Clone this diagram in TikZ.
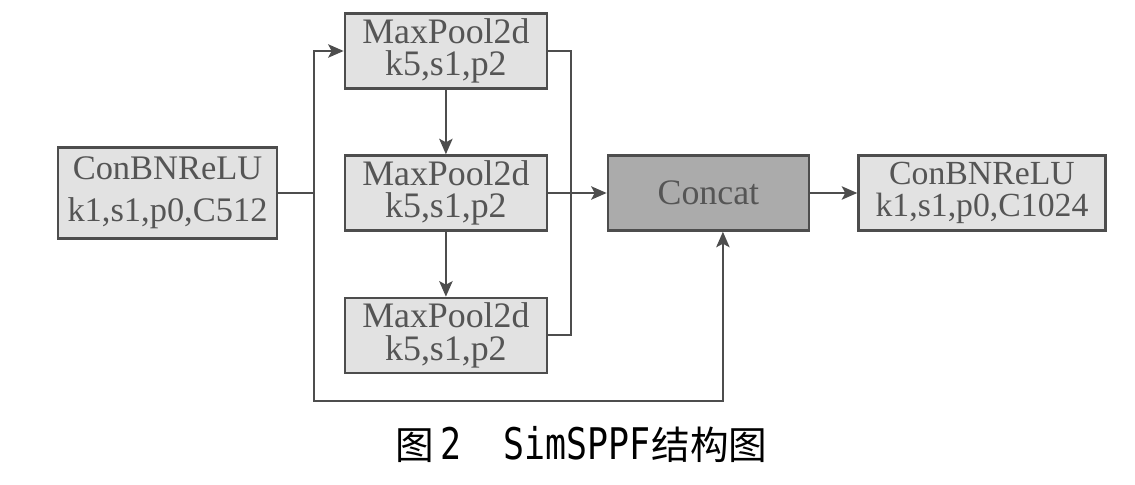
\documentclass[tikz,border=0pt]{standalone}
\usepackage{fontspec}
\setmainfont{Liberation Serif}
\newfontfamily\cjkfont{Noto Sans CJK SC}
\newfontfamily\capmono{DejaVu Sans Mono}
\usepackage{graphicx}
\usepackage{tikz}
\usetikzlibrary{arrows.meta}
\usepackage{xcolor}
\definecolor{linegray}{HTML}{4D4D4D}
\definecolor{boxgray}{HTML}{E2E2E2}
\definecolor{catgray}{HTML}{ABABAB}
\definecolor{textgray}{HTML}{555555}
\tikzstyle{pool} = [rectangle, draw=linegray, fill=boxgray, line width=1.8pt,
    text width=5.05cm, text centered, minimum height=1.875cm, inner sep=0pt,
    text=textgray, font=\fontsize{25.5}{23}\selectfont]
\tikzstyle{conv} = [pool, text width=6.175cm, font=\fontsize{24}{23}\selectfont]
\tikzstyle{stem} = [pool, text width=5.475cm, minimum height=2.275cm,
    font=\fontsize{24.5}{30}\selectfont]
\tikzstyle{cat} = [pool, fill=catgray, text width=5.025cm]
\tikzstyle{wire} = [draw=linegray, line width=1.5pt]
\tikzstyle{line} = [wire, -{Stealth[length=11pt, width=9.5pt, inset=2.5pt]}]

\begin{document}
\begin{tikzpicture}[node distance = 2cm, auto]
            \useasboundingbox (0,0) rectangle (28.375,-12.125);
            % Place nodes
            \node [stem] (conv1) at (4.1875,-4.825) {ConBNReLU \\ k1,s1,p0,C512};
            \node [pool, right of=conv1, node distance=6.96cm] (pool2) {MaxPool2d \\ k5,s1,p2};
            \node [pool, above of=pool2, node distance=3.55cm] (pool1) {MaxPool2d \\ k5,s1,p2};
            \node [pool, below of=pool2, node distance=3.56cm] (pool3) {MaxPool2d \\ k5,s1,p2};
            \node [cat, right of=pool2, node distance=6.5625cm] (concat) {Concat};
            \node [conv, right of=concat, node distance=6.84cm] (conv2) {ConBNReLU \\ k1,s1,p0,C1024};
            \node (caption) at (14.54,-11.11) {\fontsize{27.5}{30}\selectfont\cjkfont 图\hspace{4pt}\scalebox{0.8}[1]{\fontsize{31}{30}\selectfont\capmono 2}\hspace{30pt}\scalebox{0.8}[1]{\fontsize{31}{30}\selectfont\capmono SimSPPF}\hspace{1pt}结构图};
            % Bus points
            \coordinate (fork) at ([xshift=0.9cm]conv1.east);
            \coordinate (merge) at ([xshift=0.575cm]pool2.east);
            \coordinate (base) at ([yshift=-0.675cm]pool3.south);
            \coordinate (catin) at ([xshift=0.3625cm]concat.south);
            % Draw edges
            \path [wire] (conv1.east) -- (fork);
            \path [line] (fork) |- (pool1.west);
            \path [line] (fork) -- (fork |- base) -| (catin);
            \path [line] (pool1) -- (pool2);
            \path [line] (pool2) -- (pool3);
            \path [wire] (pool1.east) -| (merge |- pool3) -- (pool3.east);
            \path [line] (pool2) -- (concat);
            \path [line] (concat) -- (conv2);
        \end{tikzpicture}
\end{document}
